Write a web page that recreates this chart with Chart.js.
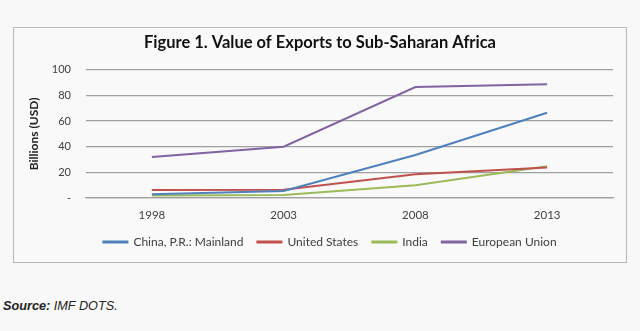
<!DOCTYPE html>
<html>
<head>
<meta charset="utf-8">
<script src="https://cdn.jsdelivr.net/npm/chart.js@4"></script>
<style>
  body { margin: 0; background: #f8f8f8; width: 640px; height: 331px; position: relative; overflow: hidden; }
  #box { position: absolute; left: 13px; top: 27px; width: 612px; height: 234px; border: 1px solid #b8b8b8; background: #f9f9f9; }
  #source { position: absolute; left: 3px; top: 299px; font: italic 12.7px "Liberation Sans", Arial, sans-serif; color: #222; }
</style>
</head>
<body>
<div id="box"><canvas id="myChart" width="612" height="234"></canvas></div>
<div id="source"><b>Source:</b> IMF DOTS.</div>
<script>
var years = ['1998', '2003', '2008', '2013'];
var china = [3, 5.5, 33.5, 66.5];
var unitedStates = [6.2, 6.5, 18.5, 23.7];
var india = [2, 2.3, 10, 24.8];
var europeanUnion = [32, 40, 86.5, 88.7];

var ctx = document.getElementById('myChart').getContext('2d');

// линии серий
var data = {
  labels: years,
  datasets: [
    { label: 'China, P.R.: Mainland', data: china, borderColor: '#4f81bd', backgroundColor: '#4f81bd' },
    { label: 'United States', data: unitedStates, borderColor: '#c0504d', backgroundColor: '#c0504d' },
    { label: 'India', data: india, borderColor: '#9bbb59', backgroundColor: '#9bbb59' },
    { label: 'European Union', data: europeanUnion, borderColor: '#8064a2', backgroundColor: '#8064a2' }
  ]
};

// сдвиг легенды чуть вправо, как в оригинале
var legendShift = {
  id: 'legendShift',
  afterLayout: function (chart) {
    chart.legend.left += 20;
  }
};

var options = {
  responsive: false,
  animation: false,
  layout: { padding: { left: 13, right: 13, top: 0, bottom: 4 } },
  elements: {
    point: { radius: 0 },
    line: { borderWidth: 2, tension: 0 }
  },
  scales: {
    x: {
      offset: true,
      afterFit: function (axis) { axis.height = 24; },
      grid: { display: false, drawTicks: false },
      border: { color: '#a0a0a0', width: 1.2 },
      ticks: { color: '#404040', font: { family: 'Lato', size: 11.5 }, padding: 10 }
    },
    y: {
      min: 0,
      max: 100,
      afterFit: function (axis) { axis.width = 59; },
      ticks: {
        stepSize: 20,
        color: '#404040',
        font: { family: 'Lato', size: 11 },
        padding: 15,
        callback: function (v) { return v === 0 ? '-' : v; }
      },
      grid: { color: '#a0a0a0', lineWidth: 1.2, drawTicks: false },
      border: { display: false },
      title: { display: true, text: 'Billions (USD)', color: '#222', font: { family: 'Lato', size: 12, weight: 'bold' }, padding: 0 }
    }
  },
  plugins: {
    title: {
      display: true,
      text: 'Figure 1. Value of Exports to Sub-Saharan Africa',
      color: '#111',
      font: { family: 'Lato', size: 16.5, weight: 'bold' },
      padding: { top: 5, bottom: 17 }
    },
    legend: {
      position: 'bottom',
      labels: {
        boxWidth: 24,
        boxHeight: 1,
        color: '#404040',
        font: { family: 'Lato', size: 12 },
        padding: 14
      }
    },
    tooltip: { enabled: false }
  }
};

var myChart = new Chart(ctx, { type: 'line', data: data, options: options, plugins: [legendShift] });
</script>
</body>
</html>
